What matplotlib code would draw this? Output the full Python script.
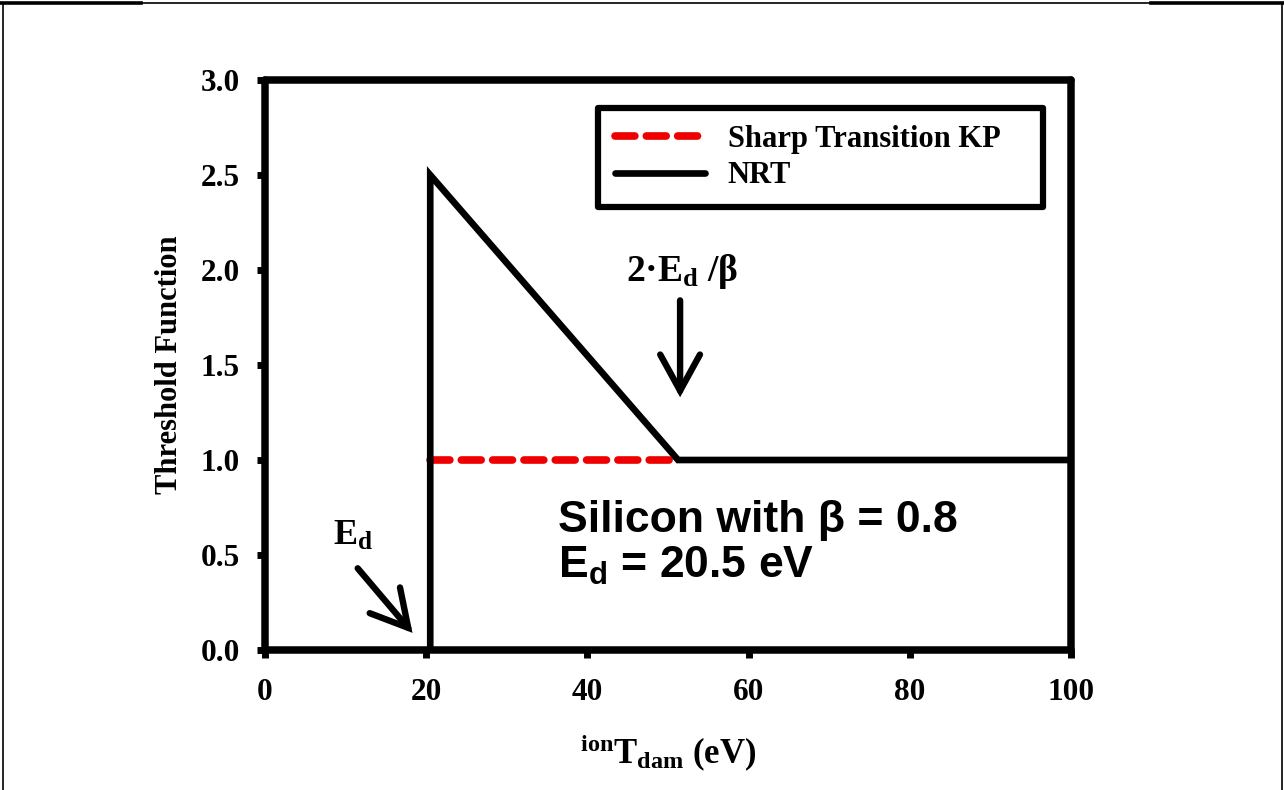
import matplotlib
matplotlib.use("Agg")
import matplotlib.pyplot as plt
from matplotlib.lines import Line2D

# ---- data ----
Ed = 20.5
beta = 0.8
nrt_x = [20.5, 20.5, 51.25, 100.0]
nrt_y = [0.0, 2.5, 1.0, 1.0]
kp_x = [20.5, 51.25]
kp_y = [1.0, 1.0]
xticks = [0, 20, 40, 60, 80, 100]
yticks = [0.0, 0.5, 1.0, 1.5, 2.0, 2.5, 3.0]

serif = "Liberation Serif"
sans = "Liberation Sans"
plt.rcParams["font.family"] = serif
plt.rcParams["font.weight"] = "bold"
plt.rcParams["mathtext.fontset"] = "custom"
plt.rcParams["mathtext.rm"] = "Liberation Serif:bold"
plt.rcParams["mathtext.it"] = "Liberation Serif:bold"
plt.rcParams["mathtext.bf"] = "Liberation Serif:bold"
plt.rcParams["mathtext.sf"] = "Liberation Sans:bold"

fig = plt.figure(figsize=(12.84, 7.90), dpi=100)
W, H = 1284, 790
ax = fig.add_axes([265 / W, 1 - 650 / H, (1071 - 265) / W, (650 - 80) / H])

lw = 4.8
ax.plot(kp_x, kp_y, color="#ee0000", lw=5.5, ls=(0, (2.6, 1.5)),
        dash_capstyle="round", label="Sharp Transition KP", zorder=3)
ax.plot(nrt_x, nrt_y, color="black", lw=lw, solid_joinstyle="miter",
        solid_capstyle="butt", label="NRT", zorder=4)

ax.set_xlim(0, 100)
ax.set_ylim(0, 3.0)
ax.set_xticks(xticks)
ax.set_yticks(yticks)
ax.set_xticklabels([f"{v:g}" for v in xticks])
ax.set_yticklabels([f"{v:.1f}" for v in yticks])
for s in ax.spines.values():
    s.set_linewidth(5.4)
    s.set_capstyle("round")
ax.tick_params(direction="out", length=6, width=5, labelsize=22.5)
ax.tick_params(axis="x", pad=14)
ax.tick_params(axis="y", pad=12)
for lab in ax.get_xticklabels() + ax.get_yticklabels():
    lab.set_fontweight("bold")

ax.set_ylabel("Threshold Function", fontsize=22, fontweight="bold", labelpad=12)
ax.set_xlabel(r"${}^{ion}T_{dam}$ (eV)", fontsize=25, fontweight="bold", labelpad=18)

leg = ax.legend(loc="upper left", bbox_to_anchor=(0.413, 0.758, 0.552, 0.193),
                mode="expand", fontsize=22, handlelength=2.95, handletextpad=0.75,
                borderpad=0.55, labelspacing=0.25, fancybox=False, framealpha=1,
                borderaxespad=0)
leg.get_frame().set_edgecolor("black")
leg.get_frame().set_linewidth(4.5)
leg.get_frame().set_joinstyle("round")
for t in leg.get_texts():
    t.set_fontweight("bold")
for h in leg.get_lines():
    h.set_solid_capstyle("round")

arrow_kw = dict(arrowstyle="->,head_length=1.0,head_width=0.55", lw=4.6,
                color="black", shrinkA=0, shrinkB=0, joinstyle="miter",
                mutation_scale=26)
# E_d marker
ax.text(10.9, 0.6, r"$E_d$", fontsize=26, ha="center", va="center")
ax.annotate("", xy=(18.3, 0.09), xytext=(11.5, 0.43), arrowprops=arrow_kw)
# 2·E_d/beta marker
ax.text(51.8, 1.99, r"2·$E_d$ /β", fontsize=27, ha="center", va="center")
ax.annotate("", xy=(51.5, 1.33), xytext=(51.5, 1.84), arrowprops=arrow_kw)

ax.text(36.3, 0.62, "Silicon with β = 0.8", fontsize=32, fontfamily=sans,
        fontweight="bold", ha="left", va="baseline")
ax.text(36.3, 0.38, r"$\mathsf{E_d}$" + " = 20.5 eV", fontsize=32, fontfamily=sans,
        fontweight="bold", ha="left", va="baseline")

# page frame lines
def fl(x0, y0, x1, y1, w):
    fig.add_artist(Line2D([x0 / W, x1 / W], [1 - y0 / H, 1 - y1 / H],
                          transform=fig.transFigure, color="black", lw=w))
fl(0, 3, W, 3, 1.2)
fl(0, 3, 141, 3, 2.6)
fl(1151, 3, W, 3, 2.6)
fl(3, 3, 3, H, 1.2)
fl(1282, 3, 1282, H, 1.2)

fig.savefig("out.png", dpi=100)
